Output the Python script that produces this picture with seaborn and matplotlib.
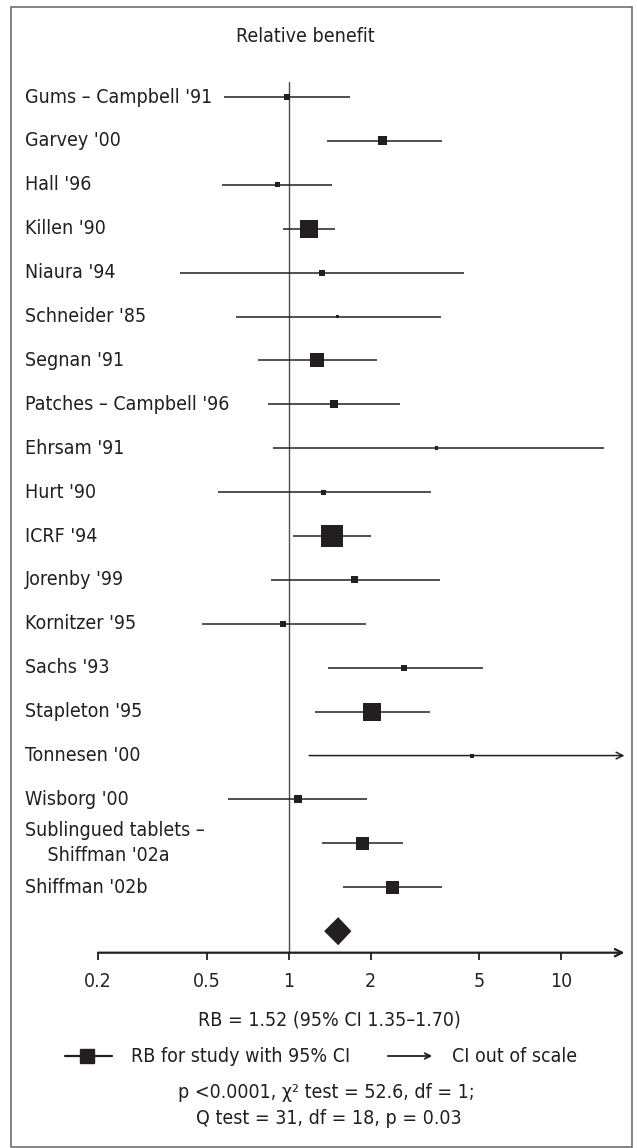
import numpy as np
import matplotlib
matplotlib.use("Agg")
import matplotlib.pyplot as plt
import matplotlib.transforms as mtransforms
from matplotlib.lines import Line2D
from matplotlib.patches import Rectangle
import seaborn as sns

# study data
studies = ["Gums – Campbell '91", "Garvey '00", "Hall '96", "Killen '90", "Niaura '94",
           "Schneider '85", "Segnan '91", "Patches – Campbell '96", "Ehrsam '91", "Hurt '90",
           "ICRF '94", "Jorenby '99", "Kornitzer '95", "Sachs '93", "Stapleton '95",
           "Tonnesen '00", "Wisborg '00", "Sublingued tablets –\n    Shiffman '02a", "Shiffman '02b"]
rb = [0.99, 2.21, 0.91, 1.19, 1.33, 1.51, 1.27, 1.47, 3.48, 1.34,
      1.44, 1.75, 0.95, 2.66, 2.03, 4.70, 1.08, 1.87, 2.41]
ci_low = [0.58, 1.38, 0.57, 0.95, 0.40, 0.64, 0.77, 0.84, 0.88, 0.55,
          1.04, 0.86, 0.48, 1.39, 1.25, 1.19, 0.60, 1.33, 1.58]
ci_high = [1.68, 3.64, 1.44, 1.48, 4.40, 3.63, 2.11, 2.56, 14.4, 3.33,
           2.01, 3.59, 1.93, 5.16, 3.30, np.nan, 1.94, 2.62, 3.64]  # nan = CI out of scale
weight = [6, 9, 5, 18, 6, 3.5, 14, 8, 3.5, 5, 22, 7, 6, 6, 18, 4, 8, 13, 13]
pooled = [1.35, 1.52, 1.70]
ticks = [0.2, 0.5, 1, 2, 5, 10]
tick_labels = ["0.2", "0.5", "1", "2", "5", "10"]

INK = "#231f20"
W, H = 637, 1148
XMAX = 17.06

sns.set_theme(style="white")
plt.rcParams['font.family'] = ['DejaVu Sans']
plt.rcParams['font.stretch'] = 'condensed'
plt.rcParams['text.color'] = INK
FS = 14

fig = plt.figure(figsize=(W / 100, H / 100), dpi=100)
fig.patch.set_facecolor("white")
ax_top, ax_bot, ax_left, ax_right = 81.7, 952.7, 98, 624.5
ax = fig.add_axes([ax_left / W, 1 - ax_bot / H, (ax_right - ax_left) / W, (ax_bot - ax_top) / H])
ax.set_facecolor("none")
ax.set_xscale("log")
ax.set_xlim(0.2, XMAX)
ax.set_ylim(19.49, -0.349)

rows = np.arange(len(studies))

# reference line at RB = 1
ax.axvline(1, color="#4d4d4f", lw=1.0, zorder=1)

# confidence intervals
for r, lo, hi in zip(rows, ci_low, ci_high):
    if np.isnan(hi):
        ax.annotate("", xy=(XMAX, r), xytext=(lo, r),
                    arrowprops=dict(arrowstyle="->", color=INK, lw=1.1, shrinkA=0, shrinkB=0,
                                    mutation_scale=12), annotation_clip=False)
    else:
        ax.hlines(r, lo, hi, color=INK, lw=1.1, zorder=2)

# point estimates, square size follows study weight
areas = (np.array(weight) * 0.72) ** 2
sns.scatterplot(x=rb, y=rows, s=areas, marker="s", color=INK, edgecolor=INK, linewidth=0,
                ax=ax, legend=False, zorder=3)

# pooled estimate diamond
dr = len(studies)
ax.fill([pooled[0], pooled[1], pooled[2], pooled[1]], [dr, dr - 0.32, dr, dr + 0.32],
        color=INK, lw=0, zorder=3)

# x axis with arrow
for s in ax.spines.values():
    s.set_visible(False)
ax.annotate("", xy=(XMAX, 19.49), xytext=(0.2, 19.49),
            arrowprops=dict(arrowstyle="->", color=INK, lw=1.6, shrinkA=0, shrinkB=0,
                            mutation_scale=13), annotation_clip=False)
ax.set_xticks(ticks)
ax.set_xticklabels(tick_labels, fontsize=FS)
ax.xaxis.set_minor_locator(matplotlib.ticker.NullLocator())
ax.tick_params(axis="x", direction="out", length=5, width=1.3, color=INK, pad=9, bottom=True)
ax.set_yticks([])
ax.set_xlabel("")
ax.set_ylabel("")

# study labels
tr = mtransforms.blended_transform_factory(fig.transFigure, ax.transData)
for r, name in zip(rows, studies):
    ax.text(25 / W, r, name, transform=tr, ha="left", va="center", fontsize=FS,
            linespacing=1.4)

# titles and notes
def fy(y):
    return 1 - y / H

fig.text(305 / W, fy(37), "Relative benefit", ha="center", va="center", fontsize=FS)
fig.text(329 / W, fy(1020), "RB = 1.52 (95% CI 1.35–1.70)", ha="center", va="center", fontsize=FS)
fig.text(326 / W, fy(1093), "p <0.0001, χ² test = 52.6, df = 1;", ha="center", va="center", fontsize=FS)
fig.text(329 / W, fy(1119), "Q test = 31, df = 18, p = 0.03", ha="center", va="center", fontsize=FS)

# legend
fig.add_artist(Line2D([65 / W, 112 / W], [fy(1056), fy(1056)], color=INK, lw=1.6))
fig.add_artist(Line2D([87 / W], [fy(1056)], marker="s", markersize=10, color=INK, lw=0))
fig.text(131 / W, fy(1056), "RB for study with 95% CI", ha="left", va="center", fontsize=FS)
fig.add_artist(matplotlib.patches.FancyArrowPatch((385 / W, fy(1056)), (435 / W, fy(1056)),
               transform=fig.transFigure, arrowstyle="->", color=INK, lw=1.3, mutation_scale=10))
fig.text(452 / W, fy(1056), "CI out of scale", ha="left", va="center", fontsize=FS)

# frame
fig.add_artist(Rectangle((11 / W, 1 / H), 621 / W, 1140 / H, transform=fig.transFigure,
                         fill=False, edgecolor="#6d6e71", lw=1.2))

fig.savefig("out.png", dpi=100, facecolor="white")
